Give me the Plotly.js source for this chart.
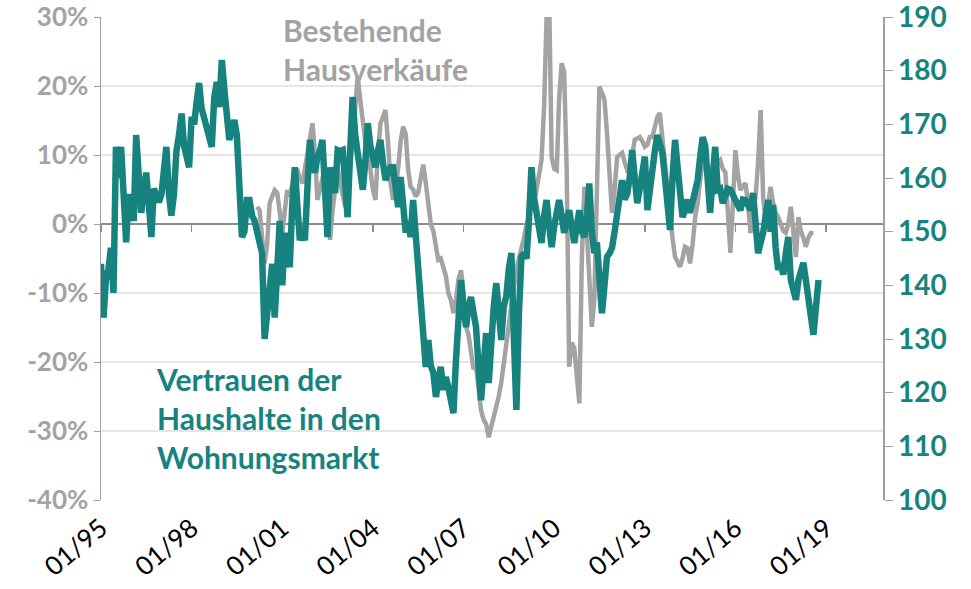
<!DOCTYPE html>
<html>
<head>
<meta charset="utf-8">
<script src="https://cdn.plot.ly/plotly-3.0.1.min.js"></script>
<style>html,body{margin:0;padding:0;background:#fff;}#chart{width:971px;height:589px;}</style>
</head>
<body>
<div id="chart"></div>
<script>
// Monthly series
const tealStart = [1995, 1]; // first month of housing confidence series
const greyStart = [2000, 3]; // first month of existing home sales series

// Vertrauen der Haushalte in den Wohnungsmarkt (right axis, index)
const confidence = [
144,134,141,143,147,138.6,165.8,160,165.8,155,
148,157,155,152,168,160,153.5,158,161,155,
149,158,157,155.5,157,163,165.8,157,153,157,
165,168,172,166,163,162,171.4,170,174,177.7,
173,171,170,168,165.8,175,177.9,173.2,182,176.4,
170,167.1,169,170.8,168,160,149,150,155.9,155.9,
153,152,150.3,148,146,130,134,140,144,134,
145,152,140,149.8,146,143.4,155,162,155,148.4,
150,148.4,158.3,167.1,163,161,164,165,167.1,155,
149,162,160,157.2,165.2,165,165.2,160,152.7,165,
175.1,168,165.2,162,157.8,163,170.2,166,164,162,
165,167.1,163,159.6,161,162,162,158,154.6,160.2,
155,149.8,152,149,155.9,150,146,139,133,124.8,
129.8,125,123.7,119.2,122,124.8,120.5,122.9,121,118,
116.2,126,133,141,136,132.2,136,137.8,135,132.2,
125,118.6,125,131.1,121.8,130,136,140.4,134,129.8,
136,138,143,146,130,116.8,135,145.3,146,145,
152,162,156.5,153,150,147.9,153,155.9,151,147.1,
151,153,155.9,153,149.8,152,154,151,147.9,151,
154,150,149,153,159,150,146,148,141,134.8,
140,145.3,146,147,150,153.5,156,159.6,156,157,
160,165.2,160,155.3,158,161,164,154,158,162,
165,168,166,164.7,160,155.9,150.3,160,167.1,162,
158.3,152.7,154,156,153.5,156,158,159.6,164,167.6,
166,160,153.5,160,165.8,157.8,158,155.3,157,158,
157.8,157,155.9,155,154,156,155.9,155,154,157.2,
152,146,148,149.8,153,155.9,150,155,147,142.9,
144,142,146,149,141,139,137.3,141,143,144.2,
141,136.7,133,130.8,136,141
];

// Bestehende Hausverkäufe, Veränderung ggü. Vorjahr in % (left axis)
const existingSales = [
2.5,2,-2,-5.7,-3,3,4,4.9,
4.5,1,-1.3,2,4.9,4,6,7.4,8,6.5,
5.9,8,10,12,14.6,10,3.5,5,7,8.3,
5,-2.3,2,5,8,6,4,2.5,6,8.3,
12,17,21.3,18,14.6,12,10,8,5,3.5,
10,14.6,15.5,16.5,12,6,3.5,5,8,12,
14.1,13,8,5.4,5,4,4.5,7,8.6,6,
3,0,-1,-3,-5.2,-5,-6,-7.5,-10,-11,
-12.9,-11,-8,-6.7,-10,-14.9,-16,-19,-21,-20.7,
-24,-27,-28.4,-29,-30.9,-29.5,-28.4,-27,-25,-23,
-20,-18,-14.9,-12,-9,-6.5,-5,-3.8,-2,0,
1,3,3,5,7,9.3,17,30,33,9.7,
8,7.8,18,23.3,22,8,-20.7,-17.2,-18,-22,
-26,-5,5.4,-1.3,-8,-14.9,-11,5,19.9,19,
18,13.2,8,1.6,5,9.7,10,10.3,9,7.8,
8,10,12.2,12.4,12.6,12,11.2,11.5,12.6,12.6,
14,15.5,16.1,12,8.3,5,1.6,-2,-4.8,-5.5,
-6.2,-5,-3.3,-3.5,-5.7,-3,1,3,6,9.7,
8,6,4.9,6,7.5,9,9.3,8,7.5,2,
-4.2,3,10.7,7,4.9,5.5,5.9,3,-1.3,2,
4,9,16.5,4,0,3,5.4,3,1.6,1,
0,-1,-1.3,0,2.5,-1,-4.8,1,-1,-2,
-3.3,-2,-1.3,-1.3
];

const leftTicks = [-40,-30,-20,-10,0,10,20,30];
const leftTickLabels = ["-40%","-30%","-20%","-10%","0%","10%","20%","30%"];
const rightTicks = [100,110,120,130,140,150,160,170,180,190];
const labelGrey = "Bestehende<br>Hausverkäufe";
const labelTeal = "Vertrauen der<br>Haushalte in den<br>Wohnungsmarkt";

function months(start, n) {
  const out = [];
  for (let i = 0; i < n; i++) {
    const t = (start[1] - 1) + i;
    const y = start[0] + Math.floor(t / 12);
    const m = (t % 12) + 1;
    out.push(y + "-" + String(m).padStart(2, "0") + "-01");
  }
  return out;
}

const TEAL = "#17837f";
const GREY = "#a3a3a3";
const FONT = "Lato, 'Open Sans', sans-serif";
const xRange = ["1995-01-01", "2020-11-19"];

const traces = [
  {x: months(greyStart, existingSales.length), y: existingSales, type: "scatter", mode: "lines",
   line: {color: GREY, width: 4.5}, yaxis: "y", xaxis: "x", hoverinfo: "skip", showlegend: false},
  {x: months(tealStart, confidence.length), y: confidence, type: "scatter", mode: "lines",
   line: {color: TEAL, width: 6.5}, yaxis: "y2", xaxis: "x", hoverinfo: "skip", showlegend: false},
  {x: [], y: [], type: "scatter", xaxis: "x2", yaxis: "y", showlegend: false, hoverinfo: "skip"}
];

const layout = {
  width: 971, height: 589,
  margin: {l: 101, r: 88, t: 17, b: 89},
  paper_bgcolor: "#fff", plot_bgcolor: "#fff",
  showlegend: false,
  xaxis: {
    type: "date", range: xRange, tickmode: "linear", tick0: "1995-01-01", dtick: "M36",
    tickformat: "%m/%y", tickangle: -40, showgrid: false, showline: false, zeroline: false,
    ticks: "", ticklabelstandoff: 7, tickfont: {family: FONT, size: 26, color: "#000"}
  },
  xaxis2: {
    type: "date", range: xRange, overlaying: "x", anchor: "free", position: 40/70,
    tickmode: "linear", tick0: "1995-01-01", dtick: "M36", showticklabels: false,
    showgrid: false, showline: false, zeroline: false, ticks: "outside", ticklen: 7,
    tickcolor: "#8c8c8c", tickwidth: 1.5, layer: "below traces"
  },
  yaxis: {
    range: [-40, 30], tickmode: "array", tickvals: leftTicks, ticktext: leftTickLabels,
    ticklabeloverflow: "allow",
    showgrid: true, gridcolor: "#e6e6e6", gridwidth: 1.5,
    showline: true, linecolor: "#a0a0a0", linewidth: 1.5, ticks: "outside", ticklen: 6,
    tickcolor: "#a0a0a0", zeroline: true, zerolinecolor: "#8c8c8c", zerolinewidth: 1.5,
    tickfont: {family: FONT, size: 26, color: GREY, weight: "bold"}, layer: "below traces"
  },
  yaxis2: {
    range: [100, 190], overlaying: "y", side: "right", tickmode: "array", tickvals: rightTicks,
    ticklabeloverflow: "allow",
    showgrid: false, zeroline: false, showline: true, linecolor: "#a0a0a0", linewidth: 1.5,
    ticks: "outside", ticklen: 8, tickcolor: "#a0a0a0",
    tickfont: {family: FONT, size: 28, color: TEAL, weight: "bold"}
  },
  annotations: [
    {text: labelGrey, xref: "paper", yref: "paper", x: 0.23, y: 1.014, xanchor: "left", yanchor: "top",
     align: "left", showarrow: false, font: {family: FONT, size: 30, color: GREY, weight: "bold"}},
    {text: labelTeal, xref: "paper", yref: "paper", x: 0.068, y: 0.292, xanchor: "left", yanchor: "top",
     align: "left", showarrow: false, font: {family: FONT, size: 30, color: TEAL, weight: "bold"}}
  ]
};

Plotly.newPlot("chart", traces, layout, {displayModeBar: false, staticPlot: true});
</script>
</body>
</html>
